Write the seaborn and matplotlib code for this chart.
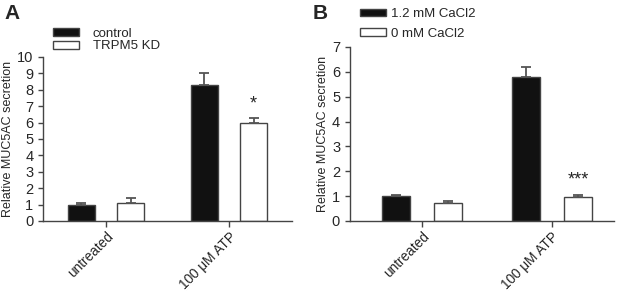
import pandas as pd
import seaborn as sns
import matplotlib.pyplot as plt

# Data
categories = ['untreated', '100 \u03bcM ATP']

groups_a = ['control', 'TRPM5 KD']
means_a = [[1.0, 1.12], [8.3, 5.95]]   # per category: [control, KD]
errs_a = [[0.08, 0.3], [0.7, 0.3]]

groups_b = ['1.2 mM CaCl2', '0 mM CaCl2']
means_b = [[1.0, 0.73], [5.78, 0.98]]
errs_b = [[0.06, 0.08], [0.4, 0.07]]

sig_a = ['', '*']
sig_b = ['', '***']

sns.set_theme(style='ticks')
plt.rcParams['font.family'] = ['Liberation Sans', 'DejaVu Sans']

edge = '#444444'


def make_df(groups, means, errs):
    rows = []
    for i, c in enumerate(categories):
        for j, g in enumerate(groups):
            rows.append({'cat': c, 'grp': g, 'val': means[i][j], 'err': errs[i][j]})
    return pd.DataFrame(rows)


def draw_panel(ax, df, groups, sig, ymax, xlim):
    sns.barplot(data=df, x='cat', y='val', hue='grp', hue_order=groups,
                palette=['#111111', 'white'], width=0.8, gap=0.45,
                edgecolor=edge, linewidth=1.0, errorbar=None, ax=ax)
    bars = list(ax.containers)
    # error bars on bar centres (upper half only)
    for j, cont in enumerate(bars):
        sub = df[df['grp'] == groups[j]].reset_index(drop=True)
        for i, bar in enumerate(cont.patches):
            v, e = sub.loc[i, 'val'], sub.loc[i, 'err']
            xc = bar.get_x() + bar.get_width() / 2
            ax.errorbar(xc, v, yerr=[[0], [e]], color='#555555', capsize=3.5,
                        elinewidth=1.3, capthick=1.3, zorder=1)
            if j == 1 and sig[i]:
                ax.text(xc, v + e + ymax * 0.035, sig[i],
                        ha='center', va='bottom', fontsize=13)
    ax.set_ylim(0, ymax)
    ax.set_yticks(range(0, ymax + 1))
    ax.set_xlim(*xlim)
    ax.set_xlabel('')
    ax.set_ylabel('Relative MUC5AC secretion', fontsize=9, labelpad=2)
    ax.tick_params(axis='y', labelsize=10.5, length=3.5, width=1, color=edge, pad=3.5)
    ax.tick_params(axis='x', labelsize=9.8, length=4, width=1, color=edge, pad=2)
    plt.setp(ax.get_xticklabels(), rotation=45, ha='right', rotation_mode='anchor')
    for s in ['top', 'right']:
        ax.spines[s].set_visible(False)
    for s in ['left', 'bottom']:
        ax.spines[s].set_color(edge)
        ax.spines[s].set_linewidth(1)
    ax.get_legend().remove()
    return bars


fig = plt.figure(figsize=(6.17, 2.92), dpi=100)
ax_a = fig.add_axes([0.0697, 0.2432, 0.4036, 0.5616])
ax_b = fig.add_axes([0.567, 0.2432, 0.428, 0.596])

df_a = make_df(groups_a, means_a, errs_a)
df_b = make_df(groups_b, means_b, errs_b)
bars_a = draw_panel(ax_a, df_a, groups_a, sig_a, 10, (-0.512, 1.512))
bars_b = draw_panel(ax_b, df_b, groups_b, sig_b, 7, (-0.554, 1.477))

# legends above each panel
fig.legend([c.patches[0] for c in bars_a], groups_a, loc='upper left',
           bbox_to_anchor=(0.086, 0.905), frameon=False, fontsize=9.5,
           handlelength=2.0, handleheight=0.55, labelspacing=0.05,
           handletextpad=1.0, borderpad=0, borderaxespad=0)
fig.legend([c.patches[0] for c in bars_b], groups_b, loc='upper left',
           bbox_to_anchor=(0.583, 0.972), frameon=False, fontsize=9.5,
           handlelength=2.0, handleheight=0.55, labelspacing=0.6,
           handletextpad=0.4, borderpad=0, borderaxespad=0)

fig.text(0.008, 0.985, 'A', fontsize=15, fontweight='bold', va='top')
fig.text(0.506, 0.985, 'B', fontsize=15, fontweight='bold', va='top')

fig.savefig('out.png', dpi=100)
